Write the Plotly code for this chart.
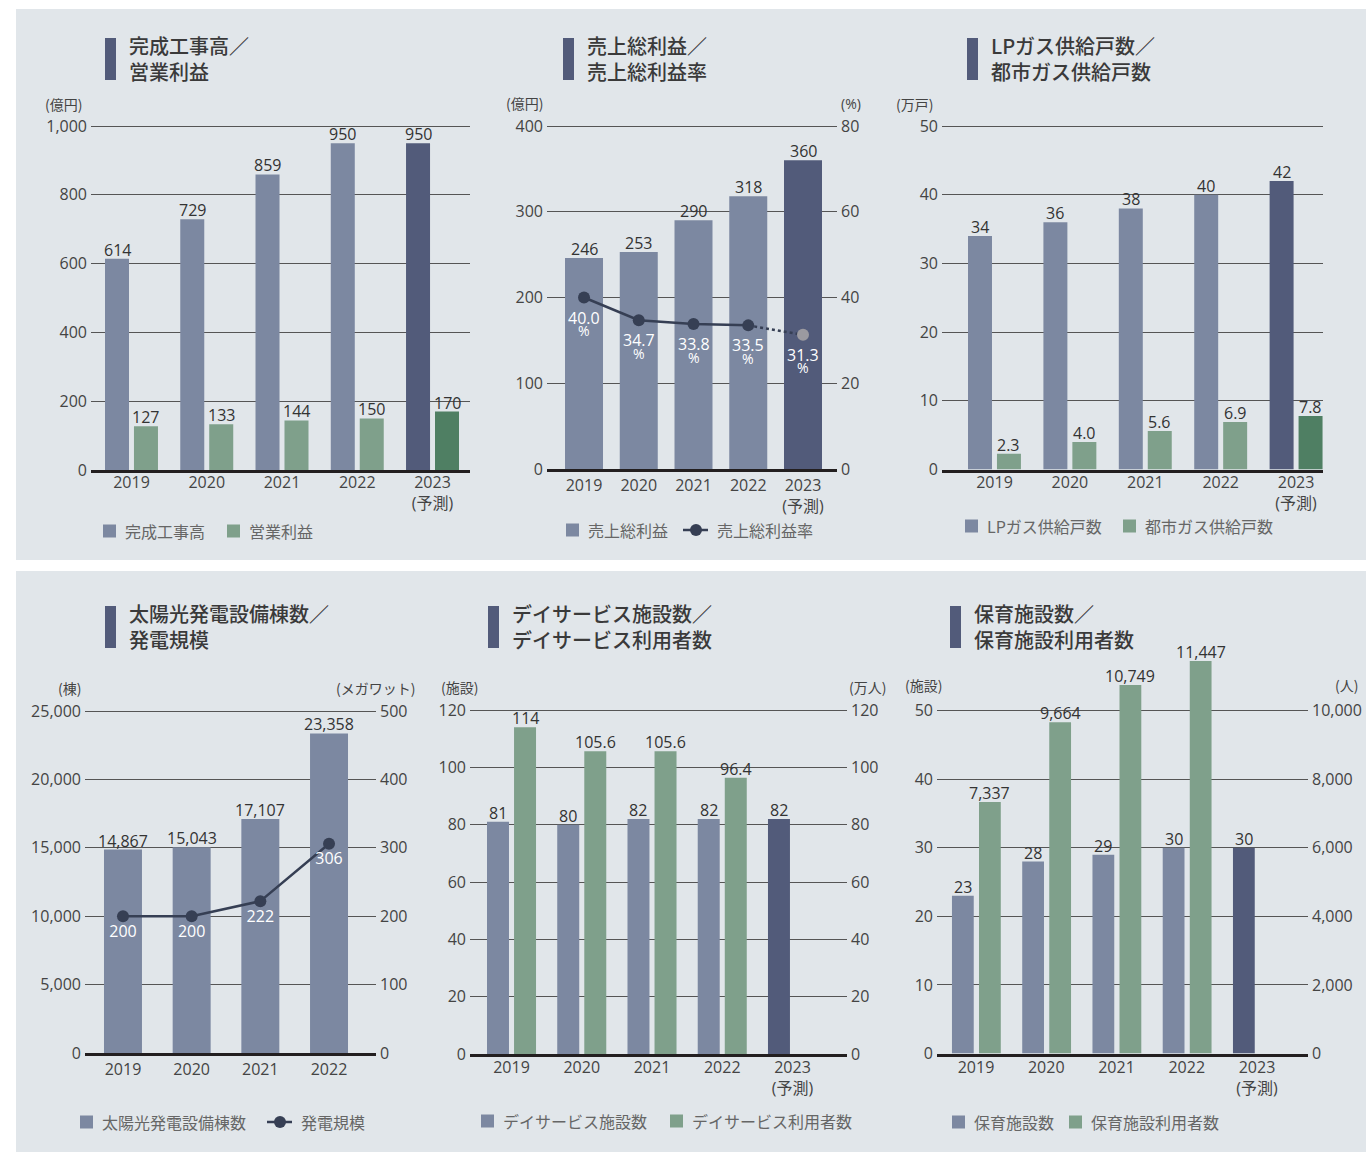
import plotly.graph_objects as go

W, H = 1366, 1154


def fx(x):
    return x / W


def fy(y):
    return 1 - y / H


# ---------------- data ----------------
years = ["2019", "2020", "2021", "2022", "2023"]
year_labels = ["2019", "2020", "2021", "2022", "2023<br>(予測)"]
solar_years = ["2019", "2020", "2021", "2022"]

kansei = [614, 729, 859, 950, 950]            # 完成工事高 (億円)
eigyo = [127, 133, 144, 150, 170]             # 営業利益 (億円)
sorieki = [246, 253, 290, 318, 360]           # 売上総利益 (億円)
sorieki_rate = [40.0, 34.7, 33.8, 33.5, 31.3]  # 売上総利益率 (%)
lp_gas = [34, 36, 38, 40, 42]                 # LPガス供給戸数 (万戸)
toshi_gas = [2.3, 4.0, 5.6, 6.9, 7.8]         # 都市ガス供給戸数 (万戸)
solar_count = [14867, 15043, 17107, 23358]    # 太陽光発電設備棟数 (棟)
solar_mw = [200, 200, 222, 306]               # 発電規模 (メガワット)
day_fac = [81, 80, 82, 82, 82]                # デイサービス施設数
day_users = [114, 105.6, 105.6, 96.4, None]   # デイサービス利用者数 (万人)
hoiku_fac = [23, 28, 29, 30, 30]              # 保育施設数
hoiku_users = [7337, 9664, 10749, 11447, None]  # 保育施設利用者数 (人)

# ---------------- styles ----------------
BG = "#e1e6ea"
BLUE = "#7c88a1"
NAVY = "#525b7a"
GREEN = "#7fa08b"
DGREEN = "#4f7f63"
LINE = "#363f54"
GRAYDOT = "#9b9aa0"
TXT = "#333333"
TICK = "#444444"
LEG = "#666666"
NUM = "Open Sans, Noto Sans CJK JP, sans-serif"
JP = "Noto Sans CJK JP, sans-serif"

fig = go.Figure()
annotations = []


def cols(n, base, last):
    return [base] * (n - 1) + [last]


def fmt(v, kind):
    if kind == "int":
        return f"{v:,}"
    if kind == "f1":
        return f"{v:.1f}"
    return f"{v:g}"


def bar(xa, ya, x, y, width, offset, color, kind="int"):
    fig.add_trace(go.Bar(
        x=x, y=y, xaxis=xa, yaxis=ya, width=width, offset=offset,
        marker=dict(color=color, line=dict(width=0)),
        cliponaxis=False, showlegend=False,
    ))
    # value labels just above each bar, anchored to the bar's own data position
    for i, v in enumerate(y):
        if v is None:
            continue
        annotations.append(dict(
            x=i + offset + width / 2, y=v, xref=xa, yref=ya, text=fmt(v, kind),
            showarrow=False, yanchor="bottom", yshift=-4,
            font=dict(family=NUM, size=16, color=TXT)))


# Panel 1
bar("x", "y", years, kansei, 0.319, -0.352, cols(5, BLUE, NAVY))
bar("x", "y", years, eigyo, 0.319, 0.033, cols(5, GREEN, DGREEN))

# Panel 2
bar("x2", "y2", years, sorieki, 0.694, -0.347, cols(5, BLUE, NAVY))
fig.add_trace(go.Scatter(
    x=years[3:], y=sorieki_rate[3:], xaxis="x2", yaxis="y7", mode="lines",
    line=dict(color=LINE, width=2.5, dash="dot"), showlegend=False, cliponaxis=False))
fig.add_trace(go.Scatter(
    x=years[:4], y=sorieki_rate[:4], xaxis="x2", yaxis="y7", mode="lines+markers",
    line=dict(color=LINE, width=2.5), marker=dict(size=12, color=LINE),
    showlegend=False, cliponaxis=False))
fig.add_trace(go.Scatter(
    x=years[4:], y=sorieki_rate[4:], xaxis="x2", yaxis="y7", mode="markers",
    marker=dict(size=12, color=GRAYDOT), showlegend=False, cliponaxis=False))

# Panel 3
bar("x3", "y3", years, lp_gas, 0.318, -0.351, cols(5, BLUE, NAVY))
bar("x3", "y3", years, toshi_gas, 0.318, 0.033, cols(5, GREEN, DGREEN), kind="f1")

# Panel 4
bar("x4", "y4", solar_years, solar_count, 0.553, -0.2765, [BLUE] * 4)
fig.add_trace(go.Scatter(
    x=solar_years, y=solar_mw, xaxis="x4", yaxis="y8", mode="lines+markers+text",
    line=dict(color=LINE, width=2.5), marker=dict(size=12, color=LINE),
    text=[f"{v}" for v in solar_mw], textposition="bottom center",
    textfont=dict(family=NUM, size=16, color="white"), showlegend=False, cliponaxis=False))

# Panel 5
bar("x5", "y5", years, day_fac, 0.313, -0.349, cols(5, BLUE, NAVY))
bar("x5", "y9", years, day_users, 0.313, 0.036, [GREEN] * 5, kind="g")

# Panel 6
bar("x6", "y6", years, hoiku_fac, 0.31, -0.342, cols(5, BLUE, NAVY))
bar("x6", "y10", years, hoiku_users, 0.31, 0.043, [GREEN] * 5)

# ---------------- axes ----------------
layout = dict(
    width=W, height=H, margin=dict(l=0, r=0, t=0, b=0, pad=0, autoexpand=False),
    paper_bgcolor="white", plot_bgcolor="rgba(0,0,0,0)",
    showlegend=False, barmode="overlay",
)


def xaxis(name, x0, x1, rng, cats, labels, yname, standoff=0):
    layout[name] = dict(
        domain=[fx(x0), fx(x1)], range=rng, type="category",
        categoryorder="array", categoryarray=cats,
        tickvals=cats, ticktext=labels, ticks="", showgrid=False, zeroline=False,
        showline=True, linewidth=3, linecolor="#231f20", anchor=yname,
        tickfont=dict(family=NUM, size=16, color=TICK), fixedrange=True,
        automargin=False, ticklabelstandoff=standoff,
    )


def yaxis(name, y0px, ytick_px, tickmax, step, rmax, xname, side="left",
          overlaying=None, grid=True):
    ppu = (y0px - ytick_px) / tickmax
    top = y0px - rmax * ppu
    vals = list(range(0, tickmax + 1, step))
    d = dict(
        domain=[fy(y0px), fy(top)], range=[0, rmax], tickvals=vals,
        ticktext=[f"{v:,}" for v in vals], ticks="", showgrid=grid,
        gridcolor="#555555", gridwidth=1, zeroline=False, showline=False,
        anchor=xname, side=side, tickfont=dict(family=NUM, size=16, color=TICK),
        fixedrange=True, ticklabelstandoff=3, automargin=False,
    )
    if overlaying:
        d["overlaying"] = overlaying
    layout[name] = d


xaxis("xaxis", 91, 470, [-0.538, 4.498], years, year_labels, "y", standoff=-4)
yaxis("yaxis", 470, 126, 1000, 200, 1010, "x")

xaxis("xaxis2", 547, 837, [-0.676, 4.621], years, year_labels, "y2", standoff=0)
yaxis("yaxis2", 469, 126, 400, 100, 404, "x2")
yaxis("yaxis7", 469, 126, 80, 20, 80.8, "x2", side="right", overlaying="y2", grid=False)

xaxis("xaxis3", 942, 1323, [-0.696, 4.357], years, year_labels, "y3", standoff=-4)
yaxis("yaxis3", 469.5, 126, 50, 10, 50.5, "x3")

xaxis("xaxis4", 85, 376, [-0.553, 3.684], solar_years, solar_years, "y4", standoff=0)
yaxis("yaxis4", 1053, 711, 25000, 5000, 25250, "x4")
yaxis("yaxis8", 1053, 711, 500, 100, 505, "x4", side="right", overlaying="y4", grid=False)

xaxis("xaxis5", 470, 847, [-0.591, 4.776], years, year_labels, "y5", standoff=-3)
yaxis("yaxis5", 1054, 710, 120, 20, 121.2, "x5")
yaxis("yaxis9", 1054, 710, 120, 20, 121.2, "x5", side="right", overlaying="y5", grid=False)

xaxis("xaxis6", 937, 1308, [-0.555, 4.726], years, year_labels, "y6", standoff=-3)
yaxis("yaxis6", 1053.5, 710.7, 50, 10, 62, "x6")
yaxis("yaxis10", 1053.5, 710.7, 10000, 2000, 12400, "x6", side="right", overlaying="y6", grid=False)

# ---------------- decorations ----------------
shapes = [
    dict(type="rect", xref="paper", yref="paper", x0=fx(16), x1=fx(1366),
         y0=fy(560), y1=fy(9), fillcolor=BG, line=dict(width=0), layer="below"),
    dict(type="rect", xref="paper", yref="paper", x0=fx(16), x1=fx(1366),
         y0=fy(1152), y1=fy(571), fillcolor=BG, line=dict(width=0), layer="below"),
]


def ann(x, y, text, size, color, family=JP, xanchor="left", yanchor="middle", weight=None):
    f = dict(family=family, size=size, color=color)
    if weight:
        f["weight"] = weight
    annotations.append(dict(
        x=fx(x), y=fy(y), xref="paper", yref="paper", text=text, showarrow=False,
        xanchor=xanchor, yanchor=yanchor, align="left", font=f))


def title(xbar, ytop, line1, line2):
    shapes.append(dict(type="rect", xref="paper", yref="paper",
                       x0=fx(xbar), x1=fx(xbar + 11), y0=fy(ytop + 42), y1=fy(ytop),
                       fillcolor=NAVY, line=dict(width=0)))
    ann(xbar + 22, ytop + 20, line1 + "<br>" + line2, 20, "#3a3a3a", weight=500)


title(105, 38, "完成工事高／", "営業利益")
title(563, 38, "売上総利益／", "売上総利益率")
title(967, 38, "LPガス供給戸数／", "都市ガス供給戸数")
title(105, 606, "太陽光発電設備棟数／", "発電規模")
title(488, 606, "デイサービス施設数／", "デイサービス利用者数")
title(950, 606, "保育施設数／", "保育施設利用者数")

# unit labels
ann(84, 104, "(億円)", 14, TICK, xanchor="right")
ann(545, 103, "(億円)", 14, TICK, xanchor="right")
ann(863, 103, "(%)", 14, TICK, family=NUM, xanchor="right")
ann(935, 104, "(万戸)", 14, TICK, xanchor="right")
ann(83, 688, "(棟)", 14, TICK, xanchor="right")
ann(417, 688, "(メガワット)", 14, TICK, xanchor="right")
ann(480, 687, "(施設)", 14, TICK, xanchor="right")
ann(888, 687, "(万人)", 14, TICK, xanchor="right")
ann(944, 685, "(施設)", 14, TICK, xanchor="right")
ann(1360, 685, "(人)", 14, TICK, xanchor="right")

# gross-margin rate labels (anchored to the data points; category index on x)
for i, v in enumerate(sorieki_rate):
    annotations.append(dict(x=i, y=v, xref="x2", yref="y7", text=f"{v:.1f}",
                            showarrow=False, yshift=-20, yanchor="middle",
                            font=dict(family=NUM, size=16, color="white")))
    annotations.append(dict(x=i, y=v, xref="x2", yref="y7", text="%",
                            showarrow=False, yshift=-33, yanchor="middle",
                            font=dict(family=NUM, size=14, color="white")))


def leg_sq(x, y, color, text):
    shapes.append(dict(type="rect", xref="paper", yref="paper",
                       x0=fx(x), x1=fx(x + 13), y0=fy(y + 6.5), y1=fy(y - 6.5),
                       fillcolor=color, line=dict(width=0)))
    ann(x + 20, y, text, 16, LEG)


def leg_line(x, y, text):
    shapes.append(dict(type="line", xref="paper", yref="paper",
                       x0=fx(x), x1=fx(x + 25), y0=fy(y), y1=fy(y),
                       line=dict(color=LINE, width=2.5)))
    shapes.append(dict(type="circle", xref="paper", yref="paper",
                       x0=fx(x + 7), x1=fx(x + 19), y0=fy(y + 6), y1=fy(y - 6),
                       fillcolor=LINE, line=dict(width=0)))
    ann(x + 32, y, text, 16, LEG)


leg_sq(103, 531, BLUE, "完成工事高")
leg_sq(227, 531, GREEN, "営業利益")
leg_sq(566, 530, BLUE, "売上総利益")
leg_line(683, 530, "売上総利益率")
leg_sq(965, 526, BLUE, "LPガス供給戸数")
leg_sq(1123, 526, GREEN, "都市ガス供給戸数")
leg_sq(80, 1122, BLUE, "太陽光発電設備棟数")
leg_line(267, 1122, "発電規模")
leg_sq(481, 1121, BLUE, "デイサービス施設数")
leg_sq(670, 1121, GREEN, "デイサービス利用者数")
leg_sq(952, 1122, BLUE, "保育施設数")
leg_sq(1069, 1122, GREEN, "保育施設利用者数")

layout["shapes"] = shapes
layout["annotations"] = annotations
fig.update_layout(**layout)

fig.write_html(
    "out.html",
    config={"displayModeBar": False},
    post_script=(
        "document.documentElement.style.margin='0';document.body.style.margin='0';"
        "document.documentElement.style.overflow='hidden';document.body.style.overflow='hidden';"
    ),
)
